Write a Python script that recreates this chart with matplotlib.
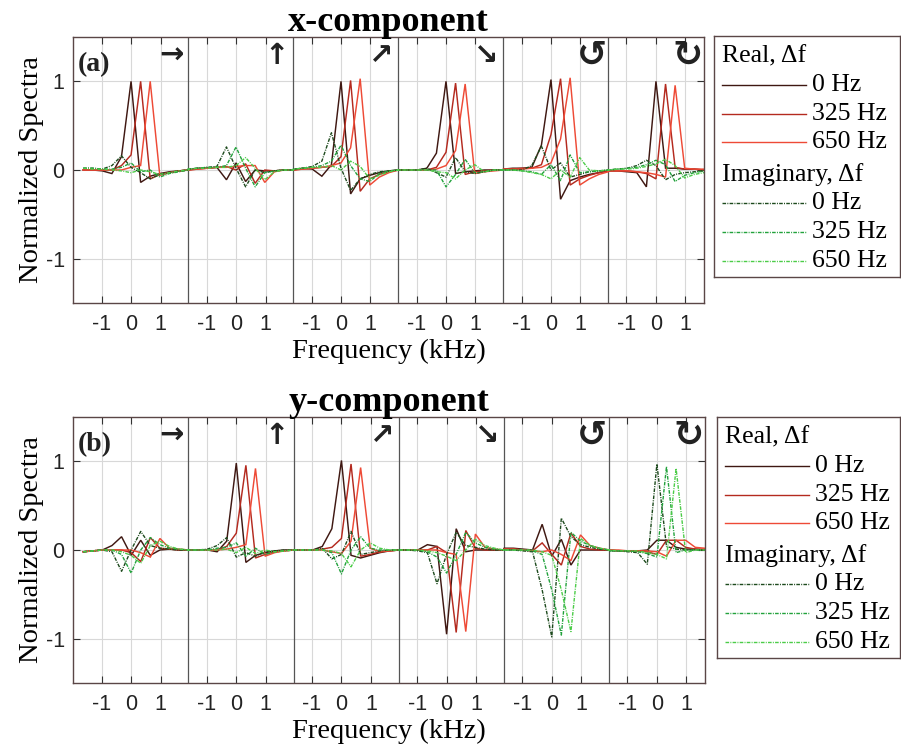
import numpy as np
import matplotlib
matplotlib.use("Agg")
import matplotlib.pyplot as plt

# ---------------- data ----------------
FREQ_KHZ = [-1.625, -1.3, -0.975, -0.65, -0.325, 0.0, 0.325, 0.65, 0.975, 1.3, 1.625, 1.95]
TICK_VALUES = [-1, 0, 1]
TICK_LABELS = ["-1", "0", "1"]
Y_TICKS = [-1, 0, 1]
SEGMENT_ARROWS = ["\u2192", "\u2191", "\u2197", "\u2198", "\u21BA", "\u21BB"]
SHIFT_LABELS = ["0 Hz", "325 Hz", "650 Hz"]
PANEL_TITLES = ["x-component", "y-component"]
PANEL_TAGS = ["(a)", "(b)"]

# x-component, real part (6 polarisation segments x 12 frequency bins)
X_REAL_0 = [
    [0.00, 0.00, -0.01, -0.04, 0.15, 1.00, -0.14, -0.07, -0.04, -0.02, -0.01, 0.00],
    [0.00, 0.02, 0.02, 0.03, -0.11, 0.08, -0.13, 0.00, -0.01, -0.01, 0.00, 0.00],
    [0.00, 0.02, 0.01, -0.07, 0.06, 1.00, -0.27, -0.10, -0.06, -0.03, -0.01, 0.00],
    [0.00, 0.00, 0.00, 0.02, 0.19, 1.00, -0.04, -0.02, -0.01, 0.00, 0.00, 0.00],
    [0.01, 0.02, 0.02, 0.03, 0.28, 1.02, -0.33, -0.12, -0.08, -0.05, -0.03, -0.01],
    [-0.01, -0.01, -0.02, -0.03, -0.19, 1.00, 0.02, 0.02, 0.01, 0.01, 0.00, 0.00],
]
X_REAL_325 = [
    [0.00, 0.00, 0.00, 0.00, 0.05, 0.17, 1.00, -0.10, -0.05, -0.03, -0.01, 0.00],
    [0.00, 0.01, 0.02, 0.03, 0.04, 0.00, 0.07, -0.15, 0.00, -0.01, 0.00, 0.00],
    [0.00, 0.01, 0.02, 0.03, 0.04, 0.15, 1.01, -0.24, -0.10, -0.05, -0.02, 0.00],
    [0.00, 0.00, 0.00, 0.00, 0.03, 0.20, 0.98, -0.05, -0.02, -0.01, 0.00, 0.00],
    [0.01, 0.01, 0.02, 0.02, 0.06, 0.40, 1.03, -0.17, -0.10, -0.06, -0.03, -0.01],
    [-0.01, -0.01, -0.01, -0.02, -0.04, -0.10, 0.97, 0.03, 0.01, 0.01, 0.00, 0.00],
]
X_REAL_650 = [
    [0.00, 0.00, 0.00, 0.00, 0.00, 0.03, 0.05, 1.00, -0.06, -0.03, -0.01, 0.00],
    [0.00, 0.01, 0.02, 0.03, 0.03, 0.04, 0.05, 0.05, -0.14, -0.02, 0.00, 0.00],
    [0.00, 0.01, 0.02, 0.03, 0.05, 0.08, 0.25, 1.03, -0.17, -0.08, -0.03, 0.00],
    [0.00, 0.00, 0.00, 0.00, 0.01, 0.05, 0.22, 0.97, -0.04, -0.02, -0.01, 0.00],
    [0.01, 0.01, 0.01, 0.02, 0.03, 0.08, 0.35, 1.04, -0.17, -0.10, -0.05, -0.02],
    [-0.01, -0.01, -0.01, -0.02, -0.03, -0.05, -0.08, 0.955, 0.02, 0.01, 0.01, 0.00],
]
# x-component, imaginary part
X_IMAG_0 = [
    [0.02, 0.02, 0.01, 0.05, 0.16, 0.03, -0.03, -0.10, -0.05, -0.03, -0.01, 0.00],
    [0.01, 0.02, 0.03, 0.04, 0.26, 0.02, -0.19, 0.00, -0.03, -0.01, 0.00, 0.00],
    [0.01, 0.02, 0.04, 0.10, 0.42, 0.02, -0.23, -0.10, -0.05, -0.02, -0.01, 0.00],
    [0.00, 0.00, 0.00, 0.02, -0.03, -0.08, 0.14, -0.02, -0.04, -0.02, 0.00, 0.00],
    [0.00, 0.00, 0.00, 0.05, 0.27, 0.00, 0.08, -0.08, -0.05, -0.02, -0.01, 0.00],
    [0.00, 0.01, 0.02, 0.05, 0.11, 0.05, -0.11, -0.05, -0.03, -0.02, -0.01, 0.00],
]
X_IMAG_325 = [
    [0.02, 0.02, 0.01, 0.01, 0.03, 0.08, -0.02, 0.00, -0.08, -0.04, -0.02, 0.00],
    [0.01, 0.02, 0.03, 0.03, 0.05, 0.26, 0.02, -0.19, -0.03, -0.01, 0.00, 0.00],
    [0.01, 0.02, 0.03, 0.05, 0.10, 0.28, 0.05, -0.10, -0.13, -0.04, -0.01, 0.00],
    [0.00, 0.00, 0.00, 0.00, 0.00, -0.19, -0.05, 0.12, -0.03, -0.02, 0.00, 0.00],
    [0.00, 0.00, -0.01, -0.02, -0.05, 0.06, -0.12, 0.17, -0.03, -0.02, -0.01, 0.00],
    [0.00, 0.01, 0.02, 0.03, 0.06, 0.11, 0.06, -0.13, -0.06, -0.03, -0.01, 0.00],
]
X_IMAG_650 = [
    [0.02, 0.01, 0.01, 0.00, -0.01, -0.03, 0.00, -0.02, -0.05, -0.03, -0.01, 0.00],
    [0.01, 0.02, 0.02, 0.03, 0.03, 0.05, 0.14, 0.02, -0.11, -0.02, 0.00, 0.00],
    [0.01, 0.02, 0.03, 0.03, 0.05, 0.00, 0.10, 0.04, -0.10, -0.06, -0.02, 0.00],
    [0.00, 0.00, 0.00, 0.00, -0.02, -0.03, -0.10, 0.00, 0.06, -0.02, 0.00, 0.00],
    [0.00, 0.00, -0.01, -0.03, -0.05, -0.10, 0.00, -0.08, 0.14, 0.00, -0.01, 0.00],
    [0.00, 0.01, 0.01, 0.02, 0.04, 0.07, 0.12, 0.05, -0.09, -0.05, -0.03, -0.01],
]

# y-component, real part
Y_REAL_0 = [
    [-0.02, -0.01, 0.00, 0.05, 0.15, -0.06, 0.11, -0.06, 0.00, 0.01, 0.00, 0.00],
    [0.00, 0.00, 0.00, -0.02, 0.10, 0.98, -0.14, -0.06, -0.03, -0.01, 0.00, 0.00],
    [0.00, 0.00, 0.00, 0.04, 0.24, 1.01, -0.06, -0.09, -0.06, -0.03, -0.01, 0.00],
    [0.00, 0.00, 0.00, 0.06, 0.04, -0.95, 0.24, -0.02, 0.00, 0.00, 0.00, 0.00],
    [0.02, 0.02, 0.01, 0.00, 0.29, -0.07, 0.12, -0.17, 0.00, 0.00, 0.00, 0.00],
    [0.00, -0.01, -0.01, -0.01, 0.00, 0.11, 0.11, 0.03, 0.01, 0.01, 0.00, 0.00],
]
Y_REAL_325 = [
    [-0.02, -0.01, 0.00, 0.00, 0.00, -0.03, -0.13, 0.14, 0.02, 0.01, 0.00, 0.00],
    [0.00, 0.00, 0.00, 0.00, 0.04, 0.19, 0.955, -0.09, -0.05, -0.02, -0.01, 0.00],
    [0.00, 0.00, 0.00, 0.01, 0.03, 0.13, 0.97, -0.07, -0.05, -0.02, -0.01, 0.00],
    [0.00, 0.00, 0.00, 0.00, 0.04, -0.03, -0.93, 0.22, 0.02, 0.00, 0.00, 0.00],
    [0.01, 0.01, 0.00, -0.01, 0.08, -0.05, -0.17, 0.19, 0.04, 0.01, 0.00, 0.00],
    [0.00, -0.01, -0.01, -0.01, -0.02, -0.05, 0.11, 0.11, 0.03, 0.01, 0.01, 0.00],
]
Y_REAL_650 = [
    [-0.02, -0.01, 0.00, 0.00, 0.00, 0.00, -0.03, -0.08, 0.13, 0.02, 0.01, 0.00],
    [0.00, 0.00, 0.00, 0.00, 0.01, 0.03, 0.06, 0.92, -0.07, -0.03, -0.01, 0.00],
    [0.00, 0.00, 0.00, 0.00, -0.02, -0.04, 0.10, 0.93, 0.02, -0.02, -0.01, 0.00],
    [0.00, 0.00, 0.00, 0.00, 0.00, -0.03, -0.05, -0.92, 0.18, 0.03, 0.01, 0.00],
    [0.01, 0.01, 0.00, -0.01, -0.02, 0.00, -0.05, -0.12, 0.17, 0.05, 0.02, 0.00],
    [0.00, 0.00, -0.01, -0.01, -0.01, -0.02, -0.07, 0.11, 0.11, 0.03, 0.02, 0.01],
]
# y-component, imaginary part
Y_IMAG_0 = [
    [-0.02, -0.01, 0.00, -0.02, -0.24, 0.00, 0.21, 0.05, 0.02, 0.01, 0.00, 0.00],
    [0.00, 0.00, 0.01, 0.05, 0.14, -0.08, -0.03, -0.07, -0.02, -0.01, 0.00, 0.00],
    [0.00, 0.00, 0.00, 0.02, -0.10, -0.05, 0.21, -0.05, -0.03, -0.01, 0.00, 0.00],
    [0.00, 0.00, -0.01, -0.03, -0.38, -0.05, 0.20, 0.05, 0.03, 0.01, 0.00, 0.00],
    [0.00, 0.00, -0.01, -0.02, -0.45, -0.98, 0.36, 0.15, 0.06, 0.03, 0.01, 0.00],
    [-0.01, -0.01, -0.02, -0.03, -0.16, 0.97, 0.04, 0.01, 0.00, 0.00, 0.00, 0.00],
]
Y_IMAG_325 = [
    [-0.02, -0.01, 0.00, 0.00, -0.05, -0.26, 0.00, 0.14, 0.06, 0.02, 0.01, 0.00],
    [0.00, 0.00, 0.00, 0.02, 0.03, 0.08, -0.07, 0.02, -0.05, -0.02, -0.01, 0.00],
    [0.00, 0.00, 0.00, 0.00, -0.03, -0.27, 0.00, 0.15, 0.02, 0.00, 0.00, 0.00],
    [0.00, 0.00, 0.00, -0.02, -0.08, -0.26, -0.05, 0.20, 0.08, 0.03, 0.01, 0.00],
    [0.00, 0.00, 0.00, -0.01, -0.05, -0.45, -0.96, 0.20, 0.10, 0.05, 0.02, 0.00],
    [-0.01, -0.01, -0.01, -0.02, -0.04, -0.08, 0.94, -0.03, 0.00, 0.00, 0.00, 0.00],
]
Y_IMAG_650 = [
    [-0.02, -0.01, 0.00, 0.00, -0.02, -0.06, -0.15, 0.05, 0.10, 0.04, 0.01, 0.00],
    [0.00, 0.00, 0.00, 0.00, 0.01, -0.03, 0.03, -0.04, 0.00, -0.02, -0.01, 0.00],
    [0.00, 0.00, 0.00, 0.00, -0.01, -0.04, -0.19, 0.00, 0.08, 0.02, 0.00, 0.00],
    [0.00, 0.00, 0.00, -0.01, -0.03, -0.07, -0.12, 0.00, 0.12, 0.05, 0.02, 0.00],
    [0.00, 0.00, 0.00, 0.00, -0.02, -0.06, -0.45, -0.92, 0.13, 0.05, 0.02, 0.00],
    [0.00, -0.01, -0.01, -0.01, -0.03, -0.05, -0.10, 0.92, -0.03, 0.00, 0.00, 0.00],
]

PANELS = [
    ([X_REAL_0, X_REAL_325, X_REAL_650], [X_IMAG_0, X_IMAG_325, X_IMAG_650]),
    ([Y_REAL_0, Y_REAL_325, Y_REAL_650], [Y_IMAG_0, Y_IMAG_325, Y_IMAG_650]),
]

# ---------------- style / layout ----------------
SEG_PITCH = 3.5625          # kHz between segment centres on the shared axis
DIVIDER_OFFSET = 1.94
XLIM = (-1.97, 5 * SEG_PITCH + 1.63)
REAL_COLORS = ["#3f1812", "#b42a1f", "#ee4a36"]
IMAG_COLORS = ["#1d4a1d", "#22a23c", "#4ccc48"]
DASH = (0, (2.6, 0.9, 0.7, 0.9))
FRAME = "#5a4646"
SERIF = "Liberation Serif"
SANS = "Liberation Sans"
TICK_FS = 15.5
LABEL_FS = 20.5
LEG_FS = 18.5
ARROW_FS = [21, 21, 21, 21, 26, 26]

fig = plt.figure(figsize=(9.01, 7.55), dpi=100)
W, H = 901.0, 755.0
axes_px = [(73, 37, 704, 303), (73, 417, 705, 683)]
legend_px = [(714, 36, 900, 277), (717, 417, 900, 658)]

for p, ((reals, imags), (l, t, r, b)) in enumerate(zip(PANELS, axes_px)):
    ax = fig.add_axes([l / W, 1 - b / H, (r - l) / W, (b - t) / H])
    nseg = len(reals[0])
    xs = np.concatenate([k * SEG_PITCH + np.asarray(FREQ_KHZ) for k in range(nseg)])
    for series, col in zip(reals, REAL_COLORS):
        ax.plot(xs, np.concatenate(series), color=col, lw=1.05, solid_joinstyle="miter")
    for series, col in zip(imags, IMAG_COLORS):
        ax.plot(xs, np.concatenate(series), color=col, lw=1.0, linestyle=DASH)

    ax.set_xlim(*XLIM)
    ax.set_ylim(-1.5, 1.5)
    xt = [k * SEG_PITCH + v for k in range(nseg) for v in TICK_VALUES]
    ax.set_xticks(xt)
    ax.set_xticklabels(TICK_LABELS * nseg, fontfamily=SANS, fontsize=TICK_FS)
    ax.set_yticks(Y_TICKS)
    ax.set_yticklabels([str(v) for v in Y_TICKS], fontfamily=SANS, fontsize=TICK_FS)
    ax.tick_params(direction="in", top=True, right=True, length=5, width=0.8,
                   color="#333333", labelcolor="#222222")
    ax.tick_params(axis="x", pad=8)
    ax.tick_params(axis="y", pad=6)
    ax.grid(True, color="#d8d8d8", lw=0.8)
    ax.set_axisbelow(True)
    for s in ax.spines.values():
        s.set_color(FRAME)
        s.set_linewidth(1.0)
    for k in range(nseg - 1):
        ax.axvline(k * SEG_PITCH + DIVIDER_OFFSET, color="#555555", lw=0.9, zorder=1.5)
    for k, sym in enumerate(SEGMENT_ARROWS):
        right = k * SEG_PITCH + DIVIDER_OFFSET if k < nseg - 1 else XLIM[1]
        ax.text(right - 0.56, 1.29, sym, ha="center", va="center",
                fontsize=ARROW_FS[k], fontweight="bold", fontfamily="DejaVu Sans",
                color="#222222")
    ax.text(0.008, 0.895, PANEL_TAGS[p], transform=ax.transAxes, ha="left", va="center",
            fontsize=20, fontweight="bold", fontfamily=SERIF, color="#222222")
    ax.set_title(PANEL_TITLES[p], fontfamily=SERIF, fontweight="bold", fontsize=26, pad=4)
    ax.set_xlabel("Frequency (kHz)", fontfamily=SERIF, fontsize=LABEL_FS, labelpad=3)
    ax.set_ylabel("Normalized Spectra", fontfamily=SERIF, fontsize=LABEL_FS, labelpad=1)

    # legend box
    L, T, R, B = legend_px[p]
    lg = fig.add_axes([L / W, 1 - B / H, (R - L) / W, (B - T) / H])
    lg.set_xlim(0, R - L)
    lg.set_ylim(B - T, 0)
    lg.set_xticks([])
    lg.set_yticks([])
    for s in lg.spines.values():
        s.set_color(FRAME)
        s.set_linewidth(1.0)
    row = 28.8
    y0 = 20
    lg.text(8, y0, "Real, \u0394f", fontfamily=SERIF, fontsize=LEG_FS, va="center", ha="left")
    for i, (lab, col) in enumerate(zip(SHIFT_LABELS, REAL_COLORS)):
        yy = y0 + (i + 1) * row
        lg.plot([8, 92], [yy, yy], color=col, lw=1.0)
        lg.text(98, yy, lab, fontfamily=SERIF, fontsize=LEG_FS, va="center", ha="left")
    yh = y0 + 4 * row + 3
    lg.text(8, yh, "Imaginary, \u0394f", fontfamily=SERIF, fontsize=LEG_FS, va="center", ha="left")
    for i, (lab, col) in enumerate(zip(SHIFT_LABELS, IMAG_COLORS)):
        yy = yh + (i + 1) * row
        lg.plot([8, 92], [yy, yy], color=col, lw=1.0, linestyle=DASH)
        lg.text(98, yy, lab, fontfamily=SERIF, fontsize=LEG_FS, va="center", ha="left")

fig.savefig("out.png", dpi=100)
